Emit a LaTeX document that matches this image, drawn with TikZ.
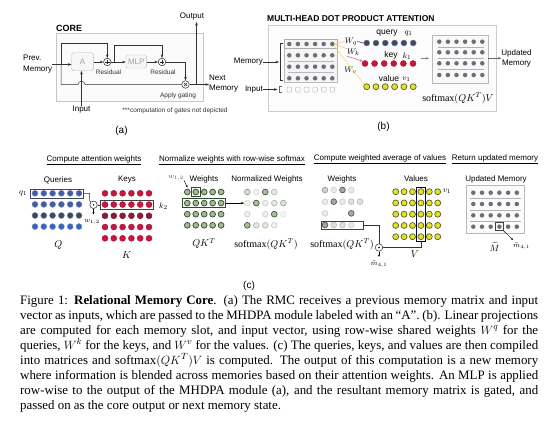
\documentclass[tikz,border=0pt]{standalone}
\usepackage{fontspec}
\setmainfont{Liberation Serif}
\setsansfont{Liberation Sans}
\usetikzlibrary{arrows.meta,calc,fit}
\definecolor{qA}{RGB}{66,92,165}
\definecolor{qB}{RGB}{58,98,190}
\definecolor{qD}{RGB}{62,72,100}
\definecolor{kR}{RGB}{200,22,62}
\definecolor{kD}{RGB}{140,28,58}
\definecolor{wG}{RGB}{165,185,145}
\definecolor{wE}{RGB}{45,75,45}
\definecolor{vY}{RGB}{225,225,45}
\definecolor{vE}{RGB}{95,95,30}
\definecolor{mG}{RGB}{105,110,120}
\definecolor{peach}{RGB}{240,195,160}
\definecolor{paley}{RGB}{235,225,120}
\begin{document}
\begin{tikzpicture}[x=1pt,y=-1pt,
 lbl/.style={font=\sffamily\fontsize{8}{9}\selectfont, inner sep=0},
 tiny/.style={font=\sffamily\fontsize{6.5}{7.5}\selectfont, inner sep=0, text=black!80},
 mth/.style={font=\fontsize{10}{12}\selectfont, inner sep=0},
 smth/.style={font=\fontsize{8.5}{10}\selectfont, inner sep=0},
 plbl/.style={font=\sffamily\fontsize{10}{12}\selectfont, inner sep=0},
 arr/.style={-{Stealth[length=3.5pt,width=2.6pt]}, line width=0.5pt, draw=black!80},
 ln/.style={line width=0.5pt, draw=black!80},
 gbox/.style={draw=gray!55, fill=gray!6, rounded corners=1.5pt, inner sep=0, text=gray!75, font=\sffamily\fontsize{8}{9}\selectfont},
 oplus/.style={circle, draw=black!85, line width=0.5pt, minimum size=7.5pt, inner sep=0,
   path picture={\draw[line width=.5pt] ($(path picture bounding box.center)+(-2.4pt,0)$) -- ++(4.8pt,0) ($(path picture bounding box.center)+(0,-2.4pt)$) -- ++(0,4.8pt);}},
 otimes/.style={circle, draw=black!85, line width=0.5pt, minimum size=7.5pt, inner sep=0,
   path picture={\draw[line width=.45pt] ($(path picture bounding box.center)+(-1.5pt,-1.5pt)$) -- ++(3pt,3pt) ($(path picture bounding box.center)+(-1.5pt,1.5pt)$) -- ++(3pt,-3pt);}},
 odot/.style={circle, draw=black!85, line width=0.5pt, minimum size=7.5pt, inner sep=0,
   path picture={\fill ($(path picture bounding box.center)$) circle (0.8pt);}},
 qdot/.style={circle, inner sep=0, minimum size=6pt, draw=#1!70!white, fill=#1},
 kdot/.style={circle, inner sep=0, minimum size=6pt, draw=#1!80!black, fill=#1},
 wdot/.style={circle, inner sep=0, minimum size=5.8pt, draw=wE, line width=0.7pt, fill=wG},
 vdot/.style={circle, inner sep=0, minimum size=6pt, draw=vE, line width=0.7pt, fill=vY},
 mdot/.style={circle, inner sep=0, minimum size=4.5pt, fill=mG},
 sel/.style={draw=black!75, line width=0.6pt, inner sep=1.3pt},
]
\useasboundingbox (0,0) rectangle (557,423);
\fill[white] (0,0) rectangle (557,423);

% ================= (a) CORE =================
\draw[draw=gray!45, fill=gray!3, line width=0.6pt] (56,33) rectangle (203,101);
\node[font=\sffamily\bfseries\fontsize{9}{10}\selectfont, inner sep=0, anchor=base west] (coret) at (56,31.5) {CORE};
\node[lbl, align=left, anchor=west, font=\sffamily\fontsize{8}{11}\selectfont] (prev) at (23,64.5) {Prev.\\Memory};
\node[gbox, minimum width=21.6pt, minimum height=18pt] (A) at (82.5,61.7) {A};
\node[oplus] (p1) at (107.3,62) {};
\node[gbox, minimum width=20.7pt, minimum height=13pt] (mlp) at (136.3,61.5) {MLP};
\node[oplus] (p2) at (162,62) {};
\node[otimes] (g) at (185.5,84.5) {};
\node[tiny] (res1) at (108.5,72.3) {Residual};
\node[tiny] (res2) at (163,72.3) {Residual};
\node[tiny] (apg) at (178,95.5) {Apply gating};
\node[lbl] (inp) at (81.5,110) {Input};
\node[tiny] (note) at (175,110.5) {***computation of gates not depicted};
\node[lbl] (outp) at (192,16.5) {Output};
\node[lbl, align=left, anchor=west, font=\sffamily\fontsize{8}{10}\selectfont] (next) at (209,84) {Next\\Memory};
\node[plbl] (la) at (121.5,131) {(a)};

\coordinate (j1) at (61,64.5);
\coordinate (j2) at (114,62);
\coordinate (jo) at (196.5,84.5);
\draw[arr] (prev.east) -- (A.west |- prev.east);
\draw[arr] (j1) -- (61,43) -| (p1.north);
\draw[ln] (j1) -- (61,84.5) -- (78,84.5) .. controls (78,80.2) and (85,80.2) .. (85,84.5) -- (g.west);
\draw[arr] (inp.north) -- (inp.north |- A.south);
\draw[arr] (A.east |- p1.west) -- (p1.west);
\draw[arr] (p1.east) -- (mlp.west |- p1.east);
\draw[arr] (j2) -- (114,45) -| (p2.north);
\draw[arr] (mlp.east |- p2.west) -- (p2.west);
\draw[arr] (p2.east) -| (g.north);
\draw[arr] (g.east) -- (next.west |- g.east);
\draw[arr] (jo) -- (196.5,22);

% ================= (b) MHDPA =================
\node[font=\sffamily\bfseries\fontsize{8.5}{10}\selectfont, inner sep=0, anchor=west] (btitle) at (267,18.5) {MULTI-HEAD DOT PRODUCT ATTENTION};
\draw[draw=gray!40, fill=gray!2, line width=0.6pt] (268,25) rectangle (496,111);
\node[lbl, anchor=east] (bmem) at (263,62) {Memory};
\node[lbl, anchor=east] (binp) at (263,89.5) {Input};
\coordinate (br) at (279,62);
\coordinate (bri) at (277.5,89.5);
\draw[arr] (bmem.east) -- (br);
\draw[arr] (binp.east) -- (bri);
\draw[ln] (283,43) -- (280,43) -- (280,80.5) -- (283,80.5);
\draw[ln, draw=black!60] (281.5,86.5) -- (279.5,86.5) -- (279.5,92.5) -- (281.5,92.5);
\draw[draw=gray!55, fill=gray!8, line width=0.5pt] (284.5,39.5) rectangle (337.5,82);
\draw[draw=gray!65, line width=0.5pt] (284.5,39.5) rectangle (337.5,48.5);
\foreach \yy in {60.8,72.3} \draw[gray!55, line width=0.5pt] (288,\yy) -- (334,\yy);
\foreach \r/\yy in {1/44,2/55.3,3/66.7,4/78.3}
  \foreach \c in {0,...,5}
    \node[mdot] (bm-\r-\c) at ({289.3+8.6*\c},\yy) {};
\foreach \c in {0,...,5}
  \node[draw=gray!55, rounded corners=0.8pt, inner sep=0, minimum width=4.6pt, minimum height=5pt, line width=0.5pt] (bi-\c) at ({289.3+8.6*\c},89.5) {};
% projections
\node[smth] (wq) at (351,41.5) {$W_q$};
\node[smth] (wk) at (353.5,52.5) {$W_k$};
\node[smth] (wv) at (350.5,70) {$W_v$};
\foreach \c in {0,...,5} \node[qdot=qD] (bq-\c) at ({366.7+9.3*\c},43) {};
\foreach \c in {0,...,5} \node[kdot=kR] (bk-\c) at ({365+9.6*\c},63.5) {};
\foreach \c in {0,...,5} \node[vdot] (bv-\c) at ({366.7+9.3*\c},86.7) {};
\node[lbl, font=\sffamily\fontsize{8.5}{10}\selectfont] (tq) at (387,33.5) {query};
\node[smth] (tq1) at (408.5,33.5) {$q_1$};
\node[lbl, font=\sffamily\fontsize{8.5}{10}\selectfont] (tk) at (391,55.5) {key};
\node[smth] (tk1) at (407,56) {$k_1$};
\node[lbl, font=\sffamily\fontsize{8.5}{10}\selectfont] (tv) at (389,78.5) {value};
\node[smth] (tv1) at (406.5,79) {$v_1$};
\draw[peach, line width=0.6pt] (bm-1-5.east) -- (wq.west);
\draw[qD, line width=0.6pt] (wq.east) -- (bq-0.west);
\draw[peach, line width=0.6pt] (bm-1-5.east) -- (wk.north west);
\draw[-{Stealth[length=3pt,width=2.4pt]}, kR!60, line width=0.6pt] (wk.south west) -- (bk-0.north west);
\draw[paley, line width=0.6pt] (bm-1-5.south east) -- (bv-0.north west);
\coordinate (ka) at (421,58.3);
\draw[-{Stealth[length=3pt,width=2.4pt]}, gray, line width=0.5pt] (ka) -- (429,58.3);
\draw[draw=gray!55, fill=gray!5, line width=0.5pt] (432.7,35) rectangle (488.3,83.3);
\foreach \yy in {47,58,69.3} \draw[gray!60, line width=0.5pt] (437.5,\yy) -- (484,\yy);
\foreach \r/\yy in {1/41.7,2/52.3,3/63.3,4/75}
  \foreach \c in {0,...,5}
    \node[mdot] (bo-\r-\c) at ({439.3+8.6*\c},\yy) {};
\node[mth] (bsm) at (458,98.5) {$\mathrm{softmax}(QK^T)V$};
\node[lbl, align=center, font=\sffamily\fontsize{8}{10}\selectfont] (bupd) at (516.5,58.3) {Updated\\Memory};
\coordinate (bo) at (488.3,58.3);
\draw[-{Stealth[length=3pt,width=2.4pt]}, gray!80!black, line width=0.5pt] (bo) -- (bupd.west);
\node[plbl] (lb) at (383.5,127) {(b)};

% ================= (c) =================
\node[lbl] (h1) at (94,160) {\underline{Compute attention weights}};
\node[lbl] (h2) at (232,160.5) {\underline{Normalize weights with row-wise softmax}};
\node[lbl] (h3) at (380,159.5) {\underline{Compute weighted average of values}};
\node[lbl] (h4) at (495,159.5) {\underline{Return updated memory}};

\node[lbl] (tQ) at (58,180) {Queries};
\node[lbl] (tK) at (127,180) {Keys};
\node[lbl] (tW) at (204,179) {Weights};
\node[lbl] (tN) at (267,179) {Normalized Weights};
\node[lbl] (tW2) at (342,179) {Weights};
\node[lbl] (tV) at (416,179) {Values};
\node[lbl] (tU) at (496,179) {Updated Memory};

% queries
\foreach \r/\col in {1/qA,2/qA,3/qD,4/qB}
  \foreach \c in {0,...,5}
    \node[qdot=\col] (q-\r-\c) at ({35+8.8*\c},{193.3+11.1*(\r-1)}) {};
\node[sel, draw=qD, fit=(q-1-0)(q-1-5)] (qbox) {};
\node[smth] (q1l) at (23,193.3) {$q_1$};
\node[mth] (Ql) at (58.3,245) {$Q$};
% keys
\foreach \r/\col in {1/kR,2/kR,3/kD,4/kR,5/kR}
  \foreach \c in {0,...,5}
    \node[kdot=\col] (k-\r-\c) at ({105+8.8*\c},{193.3+11.25*(\r-1)}) {};
\node[sel, fit=(k-2-0)(k-2-5)] (kbox) {};
\node[smth] (k2l) at (163.5,206.5) {$k_2$};
\node[mth] (Kl) at (126.7,255) {$K$};
% dot product
\node[odot] (c1) at (93.5,204.8) {};
\coordinate (qc) at (89.5,193.3);
\draw[ln] (qbox.east) -- (qc) -- (89.5,200.5) -- (c1.north west);
\draw[ln] (c1.east) -- (kbox.west |- c1.east);
\coordinate (c1d) at (93.5,214.5);
\draw[-{Stealth[length=2.5pt,width=2pt]}, line width=0.4pt] (c1.south) -- (c1d);
\node[smth, font=\fontsize{7}{8}\selectfont] (w12a) at (92,221.5) {$w_{1,2}$};

% weights QK^T
\foreach \r in {1,...,4}
  \foreach \c in {1,...,5}
    \node[wdot] (w-\r-\c) at ({187.3+8.45*(\c-1)},{192+11.1*(\r-1)}) {};
\node[sel, draw=wE, inner sep=1.2pt, fit=(w-1-2)] (wsm) {};
\node[sel, draw=wE, fit=(w-2-1)(w-2-5)] (wbox) {};
\node[smth, font=\fontsize{7}{8}\selectfont, text=black!70] (w12b) at (176,177.5) {$w_{1,2}$};
\coordinate (w12t) at (187.5,187.5);
\draw[-{Stealth[length=2.5pt,width=2pt]}, line width=0.4pt] (w12b.south east) -- (w12t);
\node[mth] (QKl) at (204,243.5) {$QK^T$};
% normalized
\foreach \r/\ops in {1/{.45,.15,.9,.3,0},2/{.15,.9,.2,.3,.4},3/{.2,0,.2,.9,.1},4/{.9,.3,.3,.2,0}}
  \foreach \o [count=\c] in \ops
    \node[wdot, opacity=\o] (n-\r-\c) at ({247.3+9*(\c-1)},{192+11.1*(\r-1)}) {};
\draw[-{Stealth[length=3pt,width=2.4pt]}, line width=0.5pt] (wbox.east) -- (n-2-1.west);
\node[mth] (sm1) at (266,244.5) {$\mathrm{softmax}(QK^T)$};

% weighted average weights
\foreach \r/\ops in {1/{.45,.2,.85,.2,0},2/{.2,.85,.2,.3,.3},3/{.2,0,0,.85,0},4/{.9,.3,.3,.2,0}}
  \foreach \o [count=\c] in \ops
    \node[wdot, draw=black!70, fill=gray!45!wG, opacity=\o] (a-\r-\c) at ({325+8.75*(\c-1)},{190+11.67*(\r-1)}) {};
\node[sel, inner sep=0pt, minimum height=8pt, fit=(a-4-1)(a-4-5)] (abox) {};
\node[mth] (sm2) at (342,244.5) {$\mathrm{softmax}(QK^T)$};
% values
\foreach \r in {1,...,5}
  \foreach \c in {0,...,5}
    \node[vdot] (v-\r-\c) at ({395.7+8.4*\c},{191.7+11.25*(\r-1)}) {};
\node[sel, draw=black!70!blue, inner sep=1.5pt, fit=(v-1-3)(v-5-3)] (vbox) {};
\node[smth] (v1l) at (447,191.7) {$v_1$};
\node[mth] (Vl) at (415,254.5) {$V$};
\node[odot] (c2) at (379,247.5) {};
\draw[ln] (abox.east) -| (c2.north);
\draw[ln] (c2.east) -| (vbox.south);
\coordinate (c2d) at (379,257);
\draw[-{Stealth[length=2.5pt,width=2pt]}, line width=0.4pt] (c2.south) -- (c2d);
\node[smth, font=\fontsize{7}{8}\selectfont] (m41a) at (379,264) {$\tilde m_{4,1}$};

% updated memory
\draw[draw=gray!55, fill=gray!3, line width=0.5pt] (466.7,185) rectangle (524,233.3);
\foreach \yy in {198.3,210,221} \draw[gray!60, line width=0.5pt] (470,\yy) -- (520.5,\yy);
\foreach \r in {1,...,4}
  \foreach \c in {0,...,5}
    \node[mdot] (u-\r-\c) at ({473.3+8.7*\c},{192.7+11.33*(\r-1)}) {};
\node[sel, inner sep=1.6pt, fit=(u-4-3)] (ubox) {};
\node[smth, font=\fontsize{7}{8}\selectfont] (m41b) at (521.5,246.5) {$\tilde m_{4,1}$};
\node[smth, font=\fontsize{9}{10}\selectfont] (Mt) at (494.5,247) {$\widetilde{M}$};
\coordinate (mt) at (513,240);
\draw[-{Stealth[length=2.5pt,width=2pt]}, line width=0.4pt] (ubox.south east) -- (mt);
\node[plbl] (lc) at (249,286) {(c)};

% ================= caption =================
\begin{scope}[every node/.style={anchor=base west, inner sep=0, font=\fontsize{12.9}{15}\selectfont}]
\node (cap1) at (20,304) {\makebox[518pt][s]{Figure 1: \textbf{Relational Memory Core}. (a) The RMC receives a previous memory matrix and input}};
\node (cap2) at (20,319) {\makebox[518pt][s]{vector as inputs, which are passed to the MHDPA module labeled with an ``A''. (b). Linear projections}};
\node (cap3) at (20,334) {\makebox[518pt][s]{are computed for each memory slot, and input vector, using row-wise shared weights $W^q$ for the}};
\node (cap4) at (20,349) {\makebox[518pt][s]{queries, $W^k$ for the keys, and $W^v$ for the values. (c) The queries, keys, and values are then compiled}};
\node (cap5) at (20,364) {\makebox[518pt][s]{into matrices and softmax$(QK^T)V$ is computed. The output of this computation is a new memory}};
\node (cap6) at (20,379) {\makebox[518pt][s]{where information is blended across memories based on their attention weights. An MLP is applied}};
\node (cap7) at (20,394) {\makebox[518pt][s]{row-wise to the output of the MHDPA module (a), and the resultant memory matrix is gated, and}};
\node (cap8) at (20,409) {passed on as the core output or next memory state.};
\end{scope}
\end{tikzpicture}
\end{document}
